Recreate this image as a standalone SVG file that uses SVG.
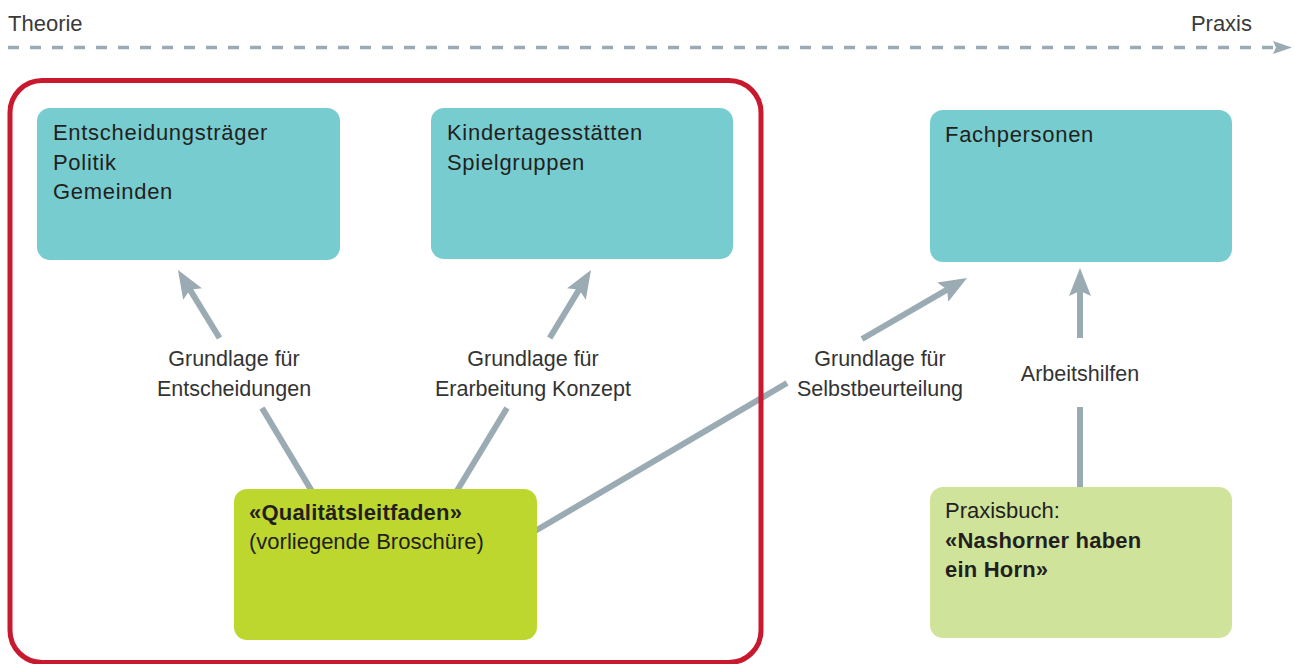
<svg xmlns="http://www.w3.org/2000/svg" width="1294" height="664" viewBox="0 0 1294 664">
  <style>
    .txt { font-family: "Liberation Sans", Arial, sans-serif; fill: #231f20; }
    .head { font-size: 22px; font-weight: 300; fill: #3a3a3a; }
    .lbl { font-size: 21.5px; fill: #333333; text-anchor: middle; }
    .box { font-size: 22px; letter-spacing: 0.7px; }
    .light { font-weight: 300; letter-spacing: 0; }
    .bold { font-weight: bold; letter-spacing: 0.2px; }
    .conn { stroke: #9aabb3; stroke-width: 6; fill: none; }
    .teal { fill: #77cccf; }
    .lime { fill: #bed72f; }
    .pale { fill: #d0e39b; }
  </style>
  <defs>
    <marker id="arrow" markerUnits="userSpaceOnUse" markerWidth="30" markerHeight="24" viewBox="-29 -12 30 24" refX="-20" refY="0" orient="auto">
      <path d="M0,0 L-28,-11 L-23,0 L-28,11 Z" fill="#9aabb3"/>
    </marker>
    <marker id="arrowSmall" markerUnits="userSpaceOnUse" markerWidth="22" markerHeight="14" viewBox="-20 -7 22 14" refX="-14" refY="0" orient="auto">
      <path d="M0,0 L-19,-6.5 L-16,0 L-19,6.5 Z" fill="#9aabb3"/>
    </marker>
  </defs>

  <rect width="1294" height="664" fill="#ffffff"/>

  <!-- theory-to-practice axis -->
  <g id="axis">
    <text class="txt head" x="8" y="31">Theorie</text>
    <text class="txt head" x="1252" y="31" text-anchor="end">Praxis</text>
    <line x1="8" y1="47.5" x2="1278" y2="47.5" stroke="#9aabb3" stroke-width="3.5" stroke-dasharray="11 11" marker-end="url(#arrowSmall)"/>
  </g>

  <!-- connectors (drawn below the boxes) -->
  <g id="connectors">
    <line class="conn" x1="313" y1="493" x2="262" y2="408"/>
    <line class="conn" x1="219.5" y1="338" x2="188.4" y2="287.1" marker-end="url(#arrow)"/>

    <line class="conn" x1="455" y1="494" x2="507" y2="408"/>
    <line class="conn" x1="549.7" y1="338" x2="580.6" y2="287.1" marker-end="url(#arrow)"/>

    <line class="conn" x1="530" y1="534" x2="787" y2="383"/>
    <line class="conn" x1="862" y1="339" x2="949.7" y2="288.1" marker-end="url(#arrow)"/>

    <line class="conn" x1="1080" y1="492" x2="1080" y2="407"/>
    <line class="conn" x1="1080" y1="338" x2="1080" y2="288" marker-end="url(#arrow)"/>
  </g>

  <!-- red frame grouping the brochure's audiences -->
  <g id="frame">
    <rect x="10" y="80.5" width="751" height="582" rx="32" fill="none" stroke="#c8192e" stroke-width="5"/>
  </g>

  <!-- connector labels -->
  <g id="labels">
    <text class="txt lbl" x="234" y="366">Grundlage für</text>
    <text class="txt lbl" x="234" y="396">Entscheidungen</text>
    <text class="txt lbl" x="533" y="366">Grundlage für</text>
    <text class="txt lbl" x="533" y="396">Erarbeitung Konzept</text>
    <text class="txt lbl" x="880" y="366">Grundlage für</text>
    <text class="txt lbl" x="880" y="396">Selbstbeurteilung</text>
    <text class="txt lbl" x="1080" y="381">Arbeitshilfen</text>
  </g>

  <g id="node-entscheidung">
    <rect class="teal" x="37" y="108" width="303" height="152" rx="13"/>
    <text class="txt box" x="53" y="140">Entscheidungsträger</text>
    <text class="txt box" x="53" y="170">Politik</text>
    <text class="txt box" x="53" y="199">Gemeinden</text>
  </g>

  <g id="node-kita">
    <rect class="teal" x="431" y="108" width="302" height="151" rx="13"/>
    <text class="txt box" x="447" y="140">Kindertagesstätten</text>
    <text class="txt box" x="447" y="170">Spielgruppen</text>
  </g>

  <g id="node-fachpersonen">
    <rect class="teal" x="930" y="110" width="302" height="152" rx="13"/>
    <text class="txt box" x="945" y="142">Fachpersonen</text>
  </g>

  <g id="node-leitfaden">
    <rect class="lime" x="234" y="489" width="303" height="151" rx="13"/>
    <text class="txt box bold" x="249" y="520">«Qualitätsleitfaden»</text>
    <text class="txt box light" x="249" y="549">(vorliegende Broschüre)</text>
  </g>

  <g id="node-praxisbuch">
    <rect class="pale" x="930" y="487" width="302" height="151" rx="13"/>
    <text class="txt box light" x="945" y="518">Praxisbuch:</text>
    <text class="txt box bold" x="945" y="548">«Nashorner haben</text>
    <text class="txt box bold" x="945" y="577">ein Horn»</text>
  </g>
</svg>
